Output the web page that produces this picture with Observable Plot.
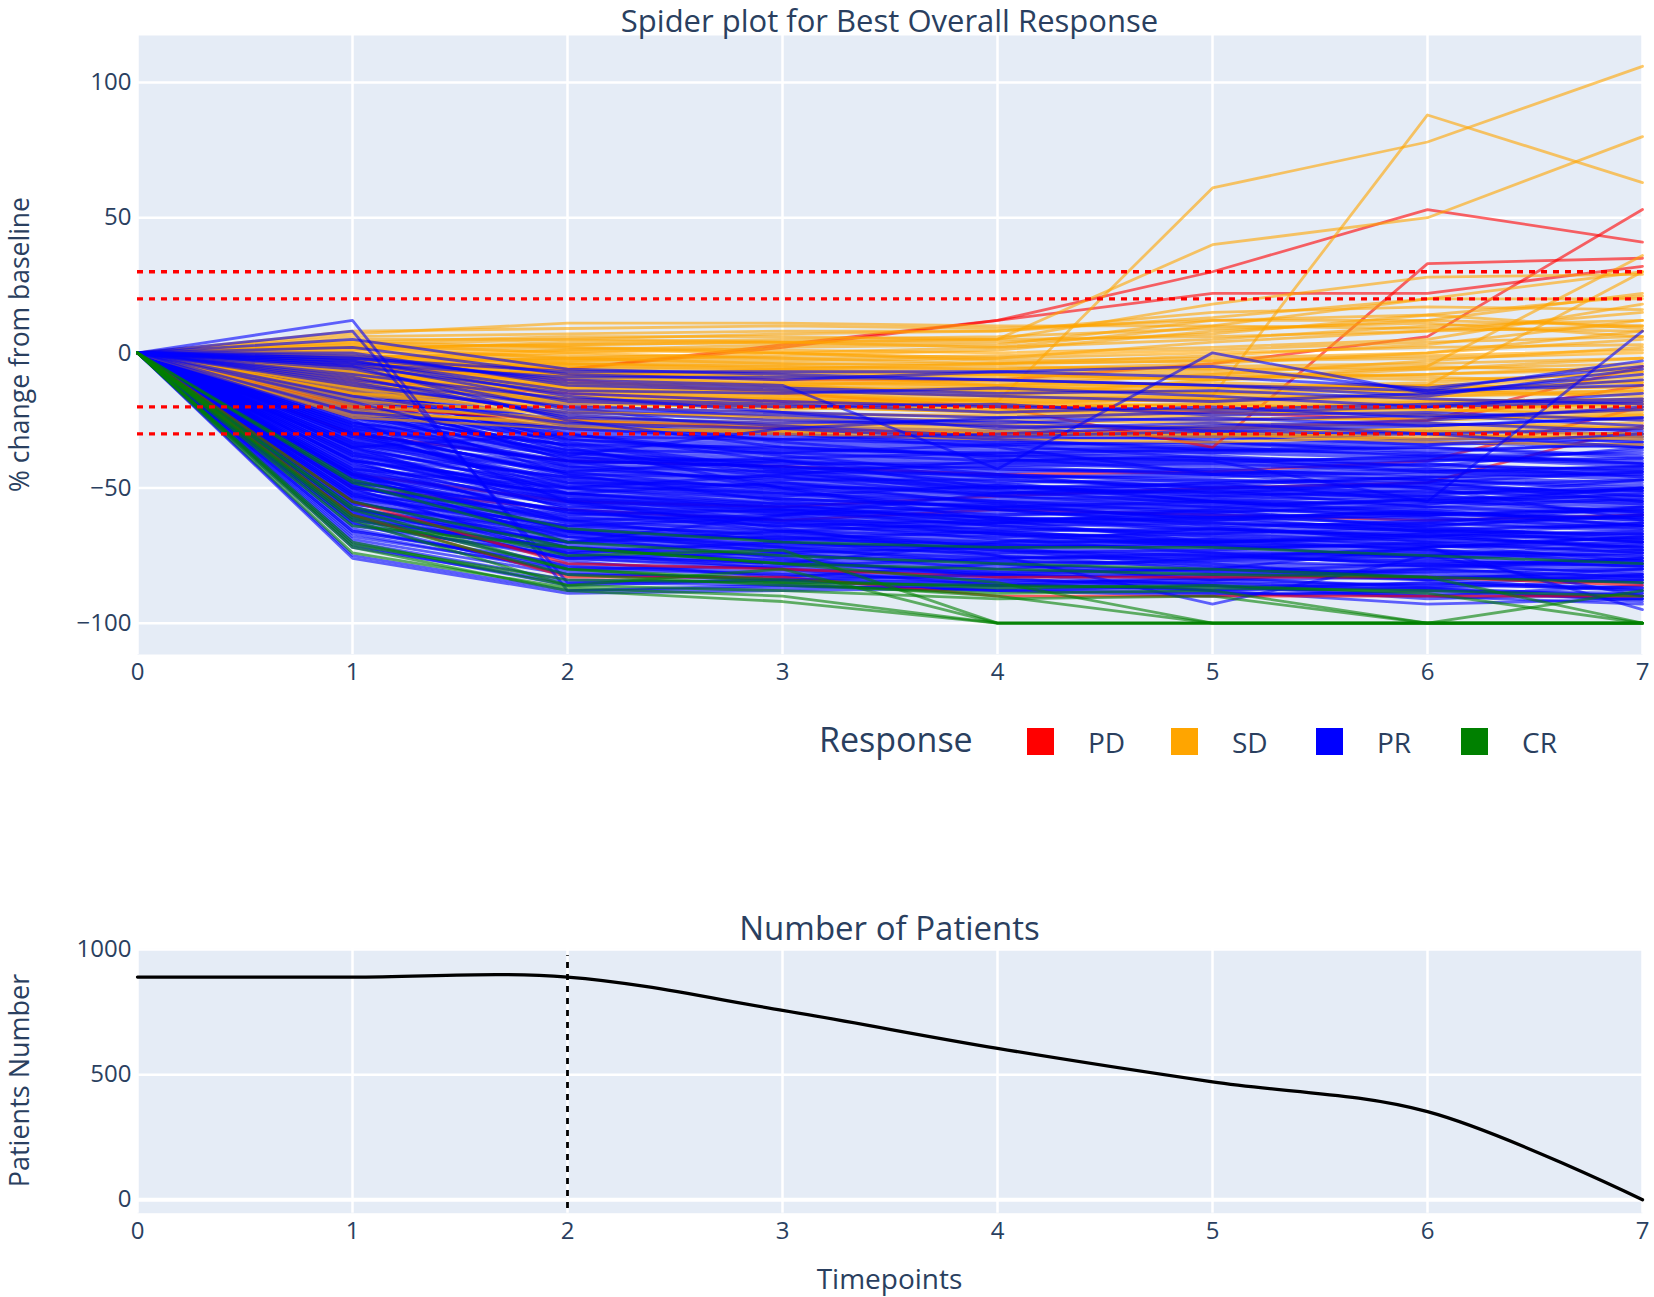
<!DOCTYPE html>
<html><head><meta charset="utf-8">
<script src="https://cdn.jsdelivr.net/npm/d3@7"></script>
<script src="https://cdn.jsdelivr.net/npm/@observablehq/plot@0.6"></script>
<style>
body{margin:0;background:#fff;}
#root{position:relative;width:1654px;height:1297px;overflow:hidden;font-family:'Open Sans',sans-serif;}
#root > svg{position:absolute;}
</style></head><body><div id="root"></div>
<script>
// ---------- data ----------
const timepoints = [0,1,2,3,4,5,6,7];
const responses = ["PD","SD","PR","CR"];
const responseColors = ["#ff0000","#ffa500","#0000ff","#008000"];
const thresholds = [30,20,-20,-30];
const yTicksTop = [-100,-50,0,50,100];
const yTicksBottom = [0,500,1000];
const patientCounts = [890,890,890,757,605,471,352,0];
const cutoffTimepoint = 2;

// PD patients whose lines stay inside the responder mass (drawn underneath)
const pdRowsUnder = [
[0,-50,-58,-62,-58,-60,-62,-60],
[0,-30,-40,-42,-45,-44,-40,-20],
[0,-45,-55,-57,-53,-50,-48,-27]
];
// PD patients whose lines stand out
const pdRows = [
[0,-3,-6,3,12,30,53,41],
[0,-4,-6,2,12,22,22,32],
[0,-5,-10,-15,-20,-35,33,35],
[0,-5,-8,-10,-10,-4,6,53],
[0,-60,-83,-83,-90,-90,-90,-90],
[0,-55,-78,-80,-83,-83,-83,-86],
[0,-10,-15,-18,-20,-22,-25,-5],
[0,-20,-25,-28,-30,-28,-25,-12]
];

const sdRows = [
[0,7,11,11,10,10,9,8],
[0,8,9,10,9,12,12,10],
[0,6,7,8,8,13,20,30],
[0,4,6,6,5,6,8,10],
[0,3,5,7,8,15,17,16],
[0,5,5,4,5,18,28,29],
[0,2,3,4,2,10,20,20],
[0,-2,0,2,3,12,14,21],
[0,1,2,0,-2,4,8,15],
[0,-8,-12,-15,-18,61,78,106],
[0,-5,-8,-12,-15,-16,88,63],
[0,2,3,4,5,40,50,80],
[0,-3,-5,-6,-8,-10,-5,36],
[0,-4,-6,-8,-12,-15,-12,30],
[0,0,1,0,-3,-2,0,5],
[0,-1,-2,-3,-2,0,2,3],
[0,3,0,-2,-4,-3,-2,0],
[0,-5,-4,-5,-6,-5,-4,-2],
[0,-6,-8,-7,-8,-10,-8,-6],
[0,-2,-6,-8,-10,-9,-8,-5],
[0,-8,-10,-12,-10,-12,-14,-10],
[0,-10,-12,-11,-13,-12,-15,-12],
[0,-4,-9,-13,-14,-15,-14,-16],
[0,-12,-14,-15,-16,-18,-16,-15],
[0,-7,-13,-16,-18,-17,-19,-20],
[0,-9,-15,-17,-18,-20,-22,-18],
[0,-14,-17,-18,-20,-19,-21,-22],
[0,-11,-16,-19,-21,-23,-20,-19],
[0,-15,-19,-20,-22,-24,-25,-23],
[0,-16,-20,-22,-24,-22,-23,-25],
[0,-18,-22,-24,-25,-26,-27,-26],
[0,-13,-21,-25,-27,-28,-26,-28],
[0,-20,-24,-26,-28,-27,-29,-30],
[0,-17,-23,-27,-29,-30,-28,-27],
[0,-22,-26,-28,-30,-31,-30,-32],
[0,-19,-25,-29,-31,-29,-32,-31],
[0,-21,-27,-30,-32,-33,-31,-30],
[0,-6,-11,-14,-16,-10,-6,-2],
[0,-3,-8,-10,-12,-8,-3,2],
[0,-1,-4,-5,-6,-4,0,8],
[0,2,-2,-4,-5,-6,-6,-4],
[0,-10,-9,-6,-4,-1,3,12],
[0,-8,-7,-9,-11,-13,-12,-9],
[0,-5,-11,-12,-14,-13,-11,-7],
[0,-12,-18,-21,-19,-17,-15,-14],
[0,-15,-22,-23,-23,-25,-24,-21],
[0,-9,-17,-20,-21,-21,-18,-17],
[0,-24,-28,-29,-30,-30,-33,-34],
[0,-23,-25,-27,-26,-28,-29,-28],
[0,4,2,1,0,2,5,18],
[0,-2,-3,-1,1,8,12,22],
[0,-4,-2,0,2,5,10,12],
[0,-2,1,3,4,7,14,9],
[0,1,4,5,6,9,11,6],
[0,-3,-5,-7,-9,-8,-10,-8],
[0,-6,-9,-11,-12,-11,-13,-11],
[0,-9,-11,-13,-15,-14,-12,-13],
[0,-11,-14,-16,-17,-16,-18,-17],
[0,-7,-12,-14,-13,-15,-17,-19],
[0,-13,-16,-17,-19,-21,-19,-18],
[0,-2,-4,-6,-7,-6,-5,-7],
[0,-4,-7,-9,-8,-7,-9,-11],
[0,-10,-13,-14,-16,-17,-16,-14],
[0,-15,-18,-19,-17,-18,-20,-21],
[0,-1,-3,-4,-4,-3,-1,1],
[0,-8,-14,-17,-20,-19,-21,-23],
[0,-12,-17,-20,-22,-21,-23,-24],
[0,0,-1,-2,-1,1,4,6]
];

const prRowsLower = [
[0,-15,-25,-27,-29,-30,-32,-31],
[0,-11,-26,-28,-31,-32,-30,-33],
[0,-14,-27,-30,-32,-31,-34,-32],
[0,-18,-28,-31,-33,-35,-33,-35],
[0,-16,-29,-32,-34,-33,-36,-34],
[0,-20,-30,-33,-35,-37,-35,-38],
[0,-13,-31,-34,-36,-35,-38,-37],
[0,-22,-32,-35,-37,-39,-40,-36],
[0,-19,-33,-36,-38,-37,-39,-41],
[0,-24,-34,-37,-39,-41,-38,-40],
[0,-17,-35,-38,-40,-39,-42,-43],
[0,-26,-36,-39,-41,-43,-41,-44],
[0,-21,-37,-40,-42,-41,-44,-42],
[0,-28,-38,-41,-43,-45,-43,-46],
[0,-23,-39,-42,-44,-43,-46,-45],
[0,-30,-40,-43,-45,-47,-48,-44],
[0,-25,-41,-44,-46,-45,-47,-49],
[0,-32,-42,-45,-47,-49,-46,-48],
[0,-27,-43,-46,-48,-47,-50,-51],
[0,-34,-44,-47,-49,-51,-49,-52],
[0,-29,-45,-48,-50,-49,-52,-50],
[0,-36,-46,-49,-51,-53,-51,-54],
[0,-31,-47,-50,-52,-51,-54,-53],
[0,-38,-48,-51,-53,-55,-56,-52],
[0,-33,-49,-52,-54,-53,-55,-57],
[0,-40,-50,-53,-55,-57,-54,-56],
[0,-35,-51,-54,-56,-55,-58,-59],
[0,-42,-52,-55,-57,-59,-57,-60],
[0,-37,-53,-56,-58,-57,-60,-58],
[0,-44,-54,-57,-59,-61,-59,-62],
[0,-39,-55,-58,-60,-59,-62,-61],
[0,-46,-56,-59,-61,-63,-64,-60],
[0,-41,-57,-60,-62,-61,-63,-65],
[0,-48,-58,-61,-63,-65,-62,-64],
[0,-43,-59,-62,-64,-63,-66,-67],
[0,-50,-60,-63,-65,-67,-65,-68],
[0,-45,-61,-64,-66,-65,-68,-66],
[0,-52,-62,-65,-67,-69,-67,-70],
[0,-47,-63,-66,-68,-67,-70,-69],
[0,-54,-64,-67,-69,-71,-72,-68],
[0,-49,-65,-68,-70,-69,-71,-73],
[0,-56,-66,-69,-71,-73,-70,-72],
[0,-51,-67,-70,-72,-71,-74,-75],
[0,-58,-68,-71,-73,-75,-73,-76],
[0,-53,-69,-72,-74,-73,-76,-74],
[0,-60,-70,-73,-75,-77,-75,-78],
[0,-55,-71,-74,-76,-75,-78,-77],
[0,-62,-72,-75,-77,-79,-80,-76],
[0,-57,-73,-76,-78,-77,-79,-81],
[0,-64,-75,-78,-80,-81,-78,-80],
[0,-59,-76,-79,-81,-80,-83,-82],
[0,-66,-78,-80,-82,-83,-81,-84],
[0,-61,-79,-81,-83,-82,-84,-83],
[0,-68,-80,-82,-84,-85,-86,-82],
[0,-63,-82,-83,-85,-84,-86,-87],
[0,-70,-84,-85,-86,-87,-85,-88],
[0,-76,-89,-88,-87,-89,-90,-86],
[0,-75,-88,-86,-88,-90,-88,-91],
[0,-20,-45,-55,-60,-58,-65,-70],
[0,-35,-30,-38,-45,-52,-48,-55],
[0,-10,-35,-50,-62,-70,-68,-72],
[0,-45,-70,-60,-52,-48,-55,-50],
[0,-30,-50,-45,-40,-38,-42,-35],
[0,-15,-40,-42,-48,-55,-60,-58],
[0,-50,-75,-78,-70,-65,-68,-63],
[0,-35,-58,-66,-72,-78,-84,-88],
[0,-28,-46,-52,-58,-64,-70,-74],
[0,-44,-66,-74,-80,-76,-72,-68],
[0,-12,-30,-40,-50,-48,-46,-44],
[0,-38,-52,-48,-56,-62,-58,-64],
[0,-8,-20,-30,-35,-45,-50,-62],
[0,-52,-72,-77,-82,-86,-90,-93],
[0,-65,-80,-79,-76,-74,-77,-79],
[0,-42,-60,-58,-61,-66,-63,-57],
[0,-33,-44,-40,-46,-50,-53,-47],
[0,-26,-34,-44,-52,-50,-48,-53],
[0,-48,-64,-61,-67,-72,-75,-71],
[0,-57,-77,-83,-78,-81,-84,-80],
[0,-14,-32,-37,-34,-39,-44,-42],
[0,-62,-74,-70,-73,-79,-82,-85],
[0,-39,-56,-63,-69,-74,-79,-76],
[0,-24,-42,-48,-53,-57,-61,-65],
[0,-46,-59,-64,-62,-60,-64,-69],
[0,-31,-48,-54,-57,-61,-66,-63],
[0,-58,-70,-68,-71,-69,-73,-75],
[0,-19,-36,-45,-49,-53,-51,-55],
[0,-7,-19,-24,-27,-33,-37,-41],
[0,-53,-66,-72,-78,-84,-80,-83],
[0,-36,-54,-60,-66,-70,-67,-73],
[0,-27,-40,-50,-55,-59,-56,-50],
[0,-67,-81,-84,-88,-86,-91,-89],
[0,-71,-86,-84,-85,-88,-87,-90],
[0,-43,-50,-56,-63,-58,-54,-59],
[0,-49,-68,-76,-83,-88,-93,-91],
[0,-29,-52,-58,-64,-68,-71,-77],
[0,-55,-74,-80,-86,-83,-87,-92],
[0,-34,-47,-53,-49,-55,-59,-61],
[0,-12,-27,-29,-30,-31,-29,-30],
[0,-17,-28,-30,-33,-34,-32,-31],
[0,-21,-31,-32,-34,-36,-37,-33],
[0,-14,-32,-36,-37,-36,-35,-39],
[0,-23,-34,-35,-38,-40,-39,-42],
[0,-19,-36,-37,-40,-42,-40,-39],
[0,-27,-37,-41,-41,-40,-43,-45],
[0,-22,-39,-40,-43,-44,-45,-43],
[0,-31,-40,-42,-46,-46,-44,-47],
[0,-26,-42,-44,-45,-48,-47,-50],
[0,-33,-43,-47,-47,-50,-49,-47],
[0,-29,-45,-46,-50,-52,-50,-53],
[0,-37,-46,-50,-50,-52,-53,-55],
[0,-32,-48,-49,-52,-54,-52,-51],
[0,-40,-49,-52,-55,-54,-57,-58],
[0,-35,-50,-54,-57,-56,-55,-59],
[0,-43,-52,-56,-56,-58,-60,-57],
[0,-38,-54,-57,-58,-60,-61,-63],
[0,-45,-55,-58,-61,-62,-60,-61],
[0,-41,-57,-59,-62,-64,-63,-66],
[0,-48,-58,-62,-63,-62,-65,-64],
[0,-44,-59,-63,-65,-66,-67,-69],
[0,-50,-61,-64,-67,-68,-66,-67],
[0,-46,-62,-66,-68,-70,-69,-71],
[0,-53,-64,-67,-70,-70,-72,-70],
[0,-49,-66,-69,-71,-72,-71,-74],
[0,-56,-67,-71,-72,-74,-75,-73],
[0,-52,-68,-72,-74,-76,-74,-77],
[0,-59,-70,-73,-76,-76,-77,-79],
[0,-55,-72,-75,-77,-78,-79,-78],
[0,-61,-73,-77,-79,-80,-81,-80],
[0,-58,-74,-78,-81,-82,-80,-83],
[0,-63,-76,-80,-82,-84,-83,-85],
[0,-66,-79,-82,-84,-86,-87,-84],
[0,-69,-82,-84,-86,-85,-88,-89],
[0,-72,-85,-86,-88,-89,-89,-91],
[0,-9,-24,-33,-39,-44,-47,-51],
[0,-16,-33,-43,-51,-56,-59,-62],
[0,-30,-44,-51,-58,-63,-66,-70],
[0,-37,-55,-62,-67,-71,-76,-79],
[0,-47,-62,-60,-57,-55,-53,-56],
[0,-54,-70,-66,-63,-61,-59,-64],
[0,-28,-41,-39,-37,-36,-38,-41],
[0,-24,-37,-43,-42,-45,-41,-46],
[0,-40,-53,-59,-64,-67,-64,-60],
[0,-60,-76,-74,-72,-70,-68,-72],
[0,-34,-52,-57,-61,-65,-69,-67],
[0,-45,-63,-68,-73,-75,-78,-82],
[0,-20,-38,-46,-53,-51,-57,-54],
[0,-51,-65,-69,-66,-70,-73,-78]
];

const prRowsUpper = [
[0,12,-88,-87,-86,-88,-85,-87],
[0,8,-85,-84,-82,-80,-83,-84],
[0,5,-6,-8,-10,-12,-14,-12],
[0,2,-8,-10,-7,-9,-13,-5],
[0,-2,-10,-12,-43,0,-15,-8],
[0,0,-12,-14,-16,-18,-15,-10],
[0,-3,-14,-15,-13,-16,-20,-15],
[0,-5,-15,-18,-20,-21,-19,-17],
[0,-8,-17,-19,-22,-20,-24,-21],
[0,-4,-18,-20,-19,-23,-22,-25],
[0,-10,-20,-22,-24,-25,-23,-27],
[0,-6,-21,-23,-26,-24,-27,-24],
[0,-12,-22,-25,-27,-28,-26,-29],
[0,-9,-24,-26,-25,-29,-30,-28],
[0,-5,-25,-35,-38,-40,-55,8],
[0,-22,-28,-32,-30,-27,-25,-20],
[0,-18,-38,-28,-24,-22,-20,-18],
[0,-16,-26,-28,-32,-36,-34,-30],
[0,-1,-11,-13,-15,-14,-17,-19],
[0,-11,-23,-27,-31,-29,-27,-24],
[0,-3,-16,-22,-28,-26,-30,-35],
[0,-2,-7,-7,-7,-5,-14,-3],
[0,-4,-9,-9,-10,-12,-16,-6],
[0,-25,-55,-65,-75,-93,-75,-90],
[0,-40,-62,-70,-75,-80,-72,-95]
];

const crRows = [
[0,-72,-88,-92,-100,-100,-100,-100],
[0,-74,-87,-90,-100,-100,-100,-100],
[0,-62,-86,-80,-100,-100,-100,-100],
[0,-57,-75,-73,-100,-100,-100,-100],
[0,-60,-80,-85,-90,-100,-100,-100],
[0,-55,-72,-78,-85,-100,-100,-100],
[0,-61,-82,-86,-89,-88,-100,-100],
[0,-70,-86,-88,-91,-90,-100,-88],
[0,-48,-70,-75,-78,-80,-83,-100],
[0,-47,-65,-70,-72,-72,-75,-78],
[0,-64,-72,-78,-80,-82,-83,-85],
[0,-58,-80,-84,-87,-86,-89,-100],
[0,-71,-84,-85,-86,-87,-88,-90]
];

// ---------- helpers ----------
const FONT = "'Open Sans', verdana, arial, sans-serif";
const TEXT = "#2a3f5f";
const BG = "#E5ECF6";
function toPoints(rows, key) {
  return rows.flatMap((r, i) => r.map((v, j) => ({t: timepoints[j], v, id: key + i})));
}
const colorOf = r => responseColors[responses.indexOf(r)];
const lineStyle = (resp) => ({x: "t", y: "v", z: "id", stroke: colorOf(resp), strokeOpacity: 0.6, strokeWidth: 2.8});

const root = document.getElementById("root");

// ---------- spider chart ----------
const spider = Plot.plot({
  width: 1654, height: 700,
  marginLeft: 137, marginRight: 12, marginTop: 35, marginBottom: 46,
  style: {fontFamily: FONT, fontSize: "24px", color: TEXT, background: "transparent", overflow: "visible"},
  x: {domain: [0, 7], ticks: timepoints, tickSize: 0, tickPadding: 8, tickFormat: d => String(d), label: null},
  y: {domain: [-111.6, 117.4], ticks: yTicksTop, tickSize: 0, tickPadding: 6, label: null},
  marks: [
    Plot.frame({fill: BG, stroke: "none"}),
    Plot.gridX(timepoints, {stroke: "white", strokeOpacity: 1, strokeWidth: 2.5}),
    Plot.gridY(yTicksTop, {stroke: "white", strokeOpacity: 1, strokeWidth: 2.5}),
    Plot.ruleY([0], {stroke: "white", strokeWidth: 4}),
    Plot.line(toPoints(pdRowsUnder, "PDu"), lineStyle("PD")),
    Plot.line(toPoints(prRowsLower, "PRa"), lineStyle("PR")),
    Plot.line(toPoints(pdRows, "PD"), lineStyle("PD")),
    Plot.line(toPoints(sdRows, "SD"), lineStyle("SD")),
    Plot.line(toPoints(prRowsUpper, "PRb"), lineStyle("PR")),
    Plot.line(toPoints(crRows, "CR"), lineStyle("CR")),
    Plot.ruleY(thresholds, {stroke: "red", strokeWidth: 3.3, strokeDasharray: "6,6"})
  ]
});
spider.style.left = "0px"; spider.style.top = "0px";
root.append(spider);

// ---------- patients chart ----------
const patientPts = timepoints.map((t, i) => ({t, n: patientCounts[i]}));
const patients = Plot.plot({
  width: 1654, height: 397,
  marginLeft: 137, marginRight: 12, marginTop: 48.3, marginBottom: 84.3,
  style: {fontFamily: FONT, fontSize: "24px", color: TEXT, background: "transparent", overflow: "visible"},
  x: {domain: [0, 7], ticks: timepoints, tickSize: 0, tickPadding: 9, tickFormat: d => String(d), label: null},
  y: {domain: [-53.5, 1002.8], ticks: yTicksBottom, tickSize: 0, tickPadding: 6, tickFormat: d => String(d), label: null},
  marks: [
    Plot.frame({fill: BG, stroke: "none"}),
    Plot.gridX(timepoints, {stroke: "white", strokeOpacity: 1, strokeWidth: 2.5}),
    Plot.gridY(yTicksBottom, {stroke: "white", strokeOpacity: 1, strokeWidth: 2.5}),
    Plot.ruleY([0], {stroke: "white", strokeWidth: 4}),
    Plot.line(patientPts, {x: "t", y: "n", curve: "catmull-rom", stroke: "black", strokeWidth: 3.3}),
    Plot.ruleX([cutoffTimepoint], {y1: -35, y2: 975, stroke: "black", strokeWidth: 2.8, strokeDasharray: "6,6"})
  ]
});
patients.style.left = "0px"; patients.style.top = "900px";
root.append(patients);

// ---------- titles, axis labels, legend ----------
const ann = d3.create("svg").attr("width", 1654).attr("height", 1297)
  .style("left", "0px").style("top", "0px").style("pointer-events", "none")
  .attr("font-family", FONT).attr("fill", TEXT);
ann.append("text").attr("x", 889.5).attr("y", 32).attr("text-anchor", "middle").attr("font-size", 31)
  .text("Spider plot for Best Overall Response");
ann.append("text").attr("transform", "translate(28.5,344.5) rotate(-90)").attr("text-anchor", "middle").attr("font-size", 26.5)
  .text("% change from baseline");
ann.append("text").attr("x", 889.5).attr("y", 940).attr("text-anchor", "middle").attr("font-size", 33)
  .text("Number of Patients");
ann.append("text").attr("transform", "translate(29,1080.5) rotate(-90)").attr("text-anchor", "middle").attr("font-size", 27)
  .text("Patients Number");
ann.append("text").attr("x", 889.5).attr("y", 1289).attr("text-anchor", "middle").attr("font-size", 28)
  .text("Timepoints");
// legend
ann.append("text").attr("x", 819).attr("y", 752).attr("font-size", 34).text("Response");
const legendX = [1027, 1171, 1316, 1461];
responses.forEach((r, i) => {
  ann.append("rect").attr("x", legendX[i]).attr("y", 728).attr("width", 27).attr("height", 27).attr("fill", responseColors[i]);
  ann.append("text").attr("x", legendX[i] + 61).attr("y", 753).attr("font-size", 28).text(r);
});
root.append(ann.node());
</script></body></html>
